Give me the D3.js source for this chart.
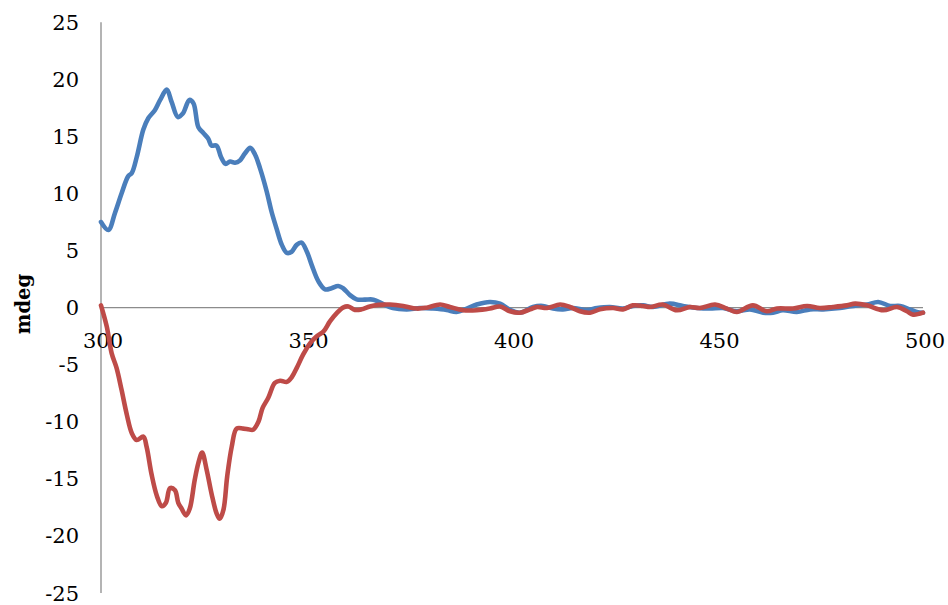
<!DOCTYPE html>
<html>
<head>
<meta charset="utf-8">
<script src="https://cdn.jsdelivr.net/npm/d3@7"></script>
<style>
  html, body { margin: 0; padding: 0; background: #fff; }
  svg { display: block; }
</style>
</head>
<body>
<svg id="chart" width="948" height="605"></svg>
<script>
// CD spectra (mdeg vs wavelength, nm)
const xTicks = [300, 350, 400, 450, 500];
const yTicks = [25, 20, 15, 10, 5, 0, -5, -10, -15, -20, -25];

const series1Wavelength = [300, 301.8, 303.4, 305.0, 306.6, 307.5, 308.7, 310.3, 311.5, 313.1, 314.4, 316.0,
  317.2, 318.7, 319.9, 321.5, 322.5, 323.7, 324.9, 326.1, 326.9, 328.1, 329.2, 330.3, 331.4, 332.6, 333.8,
  335.0, 336.3, 337.5, 338.7, 340.3, 341.5, 342.7, 344.0, 345.2, 346.4, 347.6, 348.8, 350.1, 351.3, 352.9,
  354.5, 356.1, 357.7, 358.9, 360.6, 362.2, 364.2, 366.3, 368.7, 371.0, 374.4, 377.6, 380.8, 384.1, 386.5,
  389.0, 391.4, 394.6, 397.1, 399.5, 401.9, 405.1, 407.5, 410.0, 412.4, 414.8, 418.2, 420.7, 423.8, 427.0,
  429.4, 431.9, 434.3, 438.4, 441.6, 445.0, 448.2, 451.3, 454.7, 457.9, 461.1, 463.5, 465.9, 469.3, 472.5,
  475.7, 479.8, 483.9, 486.4, 489.1, 492.0, 494.4, 496.8, 498.5, 500];
const series1Mdeg = [7.5, 6.8, 8.3, 10.0, 11.5, 11.8, 13.2, 15.6, 16.6, 17.3, 18.2, 19.1,
  18.0, 16.7, 17.0, 18.2, 17.9, 15.8, 15.3, 14.8, 14.2, 14.2, 13.2, 12.6, 12.8, 12.7, 12.9,
  13.5, 14.0, 13.4, 12.2, 10.2, 8.4, 6.95, 5.5, 4.8, 4.9, 5.5, 5.7, 4.9, 3.7, 2.3,
  1.6, 1.7, 1.9, 1.7, 1.1, 0.73, 0.7, 0.7, 0.3, -0.03, -0.15, -0.03, -0.08, -0.2, -0.38,
  -0.08, 0.27, 0.5, 0.35, -0.2, -0.44, 0.06, 0.15, -0.08, -0.15, -0.03, -0.2, -0.03, 0.06, -0.08,
  0.15, 0.2, 0.06, 0.35, 0.15, -0.03, -0.08, -0.03, -0.32, -0.15, -0.44, -0.44, -0.23, -0.38, -0.15,
  -0.15, -0.03, 0.2, 0.27, 0.5, 0.15, 0.15, -0.15, -0.38, -0.45];

const series2Wavelength = [300, 301.4, 302.6, 303.8, 305.0, 306.3, 307.5, 308.7, 310.3, 311.1, 312.3, 313.6,
  314.8, 315.8, 316.8, 318.0, 318.8, 319.6, 320.7, 321.6, 322.8, 323.7, 324.6, 325.7, 326.9, 328.1, 328.9,
  329.8, 330.7, 331.8, 333.0, 334.6, 335.8, 337.0, 338.3, 339.3, 340.7, 342.3, 343.6, 345.2, 346.4, 347.6,
  349.2, 350.9, 352.5, 354.1, 355.7, 357.3, 359.0, 360.2, 361.8, 363.4, 365.4, 367.5, 370.3, 373.5, 376.8,
  379.2, 382.5, 384.9, 388.1, 391.4, 394.6, 397.1, 399.5, 401.9, 404.4, 406.1, 408.5, 411.7, 414.1, 416.5,
  419.0, 421.4, 424.6, 427.0, 429.4, 431.9, 433.6, 436.7, 440.1, 443.3, 445.7, 449.4, 452.3, 454.7, 458.6,
  462.0, 464.5, 468.4, 471.8, 474.9, 478.1, 481.5, 483.5, 486.4, 490.3, 493.7, 496.1, 497.6, 500];
const series2Mdeg = [0.2, -1.66, -4.0, -5.3, -7.2, -9.4, -11.0, -11.6, -11.3, -12.2, -14.6, -16.5,
  -17.4, -17.1, -15.8, -16.0, -17.1, -17.6, -18.2, -17.6, -15.1, -13.6, -12.7, -14.2, -16.3, -18.0, -18.5,
  -17.7, -14.8, -12.2, -10.6, -10.6, -10.65, -10.7, -10.0, -8.8, -7.9, -6.6, -6.4, -6.5, -6.1, -5.3,
  -4.1, -3.1, -2.5, -2.1, -1.2, -0.5, 0.03, 0.1, -0.2, -0.15, 0.1, 0.24, 0.27, 0.15, -0.08,
  0, 0.27, 0.06, -0.23, -0.23, -0.08, 0.1, -0.32, -0.44, -0.15, 0.06, -0.03, 0.27, 0.06, -0.32,
  -0.44, -0.15, -0.03, -0.15, 0.2, 0.15, 0.06, 0.27, -0.23, 0.06, -0.03, 0.27, -0.08, -0.38, 0.2,
  -0.32, -0.08, -0.08, 0.15, -0.03, 0.06, 0.2, 0.35, 0.2, -0.23, 0.06, -0.32, -0.61, -0.44];

const series = [
  { x: series1Wavelength, y: series1Mdeg, color: "#4a7ebb" },
  { x: series2Wavelength, y: series2Mdeg, color: "#be4b48" }
];

const svg = d3.select("#chart");
const x = d3.scaleLinear().domain([300, 500]).range([101, 923]);
const y = d3.scaleLinear().domain([-25, 25]).range([593, 22.3]);

const font = "'DejaVu Serif', 'Liberation Serif', serif";
const axisColor = "#8c8c8c";

// vertical axis line at x = 300
svg.append("line")
  .attr("x1", x(300)).attr("x2", x(300))
  .attr("y1", y(25)).attr("y2", y(-25))
  .attr("stroke", axisColor).attr("stroke-width", 1.3);

// horizontal axis at zero
svg.append("line")
  .attr("x1", x(300)).attr("x2", x(500))
  .attr("y1", y(0)).attr("y2", y(0))
  .attr("stroke", axisColor).attr("stroke-width", 1.3);

// y tick labels
svg.append("g").selectAll("text")
  .data(yTicks).join("text")
  .attr("x", 79)
  .attr("y", d => y(d))
  .attr("dy", "0.36em")
  .attr("text-anchor", "end")
  .attr("font-family", font)
  .attr("font-size", 21)
  .attr("fill", "#000")
  .text(d => d);

// x tick labels, just under the zero line
svg.append("g").selectAll("text")
  .data(xTicks).join("text")
  .attr("x", d => x(d) + 2)
  .attr("y", 348)
  .attr("text-anchor", "middle")
  .attr("font-family", font)
  .attr("font-size", 21)
  .attr("fill", "#000")
  .text(d => d);

// y axis title
svg.append("text")
  .attr("transform", "translate(30,304) rotate(-90)")
  .attr("text-anchor", "middle")
  .attr("font-family", font)
  .attr("font-weight", "bold")
  .attr("font-size", 19.5)
  .attr("fill", "#000")
  .text("mdeg");

// spectra
const line = d3.line()
  .x(d => x(d[0]))
  .y(d => y(d[1]))
  .curve(d3.curveCatmullRom.alpha(0.5));

svg.append("g").selectAll("path")
  .data(series).join("path")
  .attr("d", s => line(d3.zip(s.x, s.y)))
  .attr("fill", "none")
  .attr("stroke", s => s.color)
  .attr("stroke-width", 4.6)
  .attr("stroke-linejoin", "round")
  .attr("stroke-linecap", "round");
</script>
</body>
</html>
